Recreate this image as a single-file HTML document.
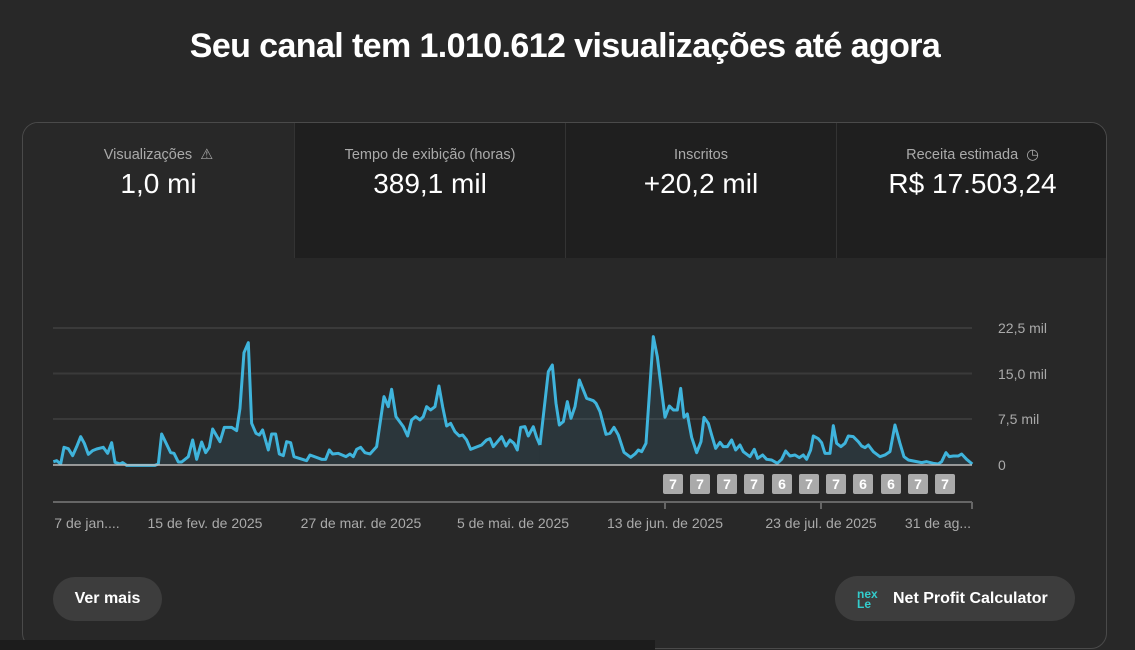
<!DOCTYPE html>
<html><head><meta charset="utf-8"><style>
*{margin:0;padding:0;box-sizing:border-box}
html,body{width:1135px;height:650px;overflow:hidden}
body{background:#282828;font-family:"Liberation Sans",sans-serif;position:relative;color:#fff}
h1{position:absolute;top:27px;left:0;width:1130px;text-align:center;font-size:34px;font-weight:bold;letter-spacing:-0.6px}
.card{position:absolute;left:22px;top:122px;width:1085px;height:527px;border:1px solid #4a4a4a;border-radius:16px;overflow:hidden}
.tab{position:absolute;top:0;height:135px;text-align:center;background:#1f1f1f;border-left:1px solid #333}
.tab .l{margin-top:24px;font-size:14.5px;color:#aaa}
.tab .v{margin-top:5px;font-size:28px;color:#fff}
.t0{left:0;width:271px;background:#282828;border-left:none}
.t1{left:271px;width:271px}.t2{left:542px;width:271px}.t3{left:813px;width:272px}
.btn{position:absolute;background:#3d3d3d;border-radius:23px;font-weight:bold;font-size:16px;color:#fff;display:flex;align-items:center;justify-content:center}
</style></head><body>
<h1>Seu canal tem 1.010.612 visualizações até agora</h1>
<div class="card">
<div class="tab t0"><div class="l">Visualizações &nbsp;⚠</div><div class="v">1,0 mi</div></div>
<div class="tab t1"><div class="l">Tempo de exibição (horas)</div><div class="v">389,1 mil</div></div>
<div class="tab t2"><div class="l">Inscritos</div><div class="v">+20,2 mil</div></div>
<div class="tab t3"><div class="l">Receita estimada &nbsp;◷</div><div class="v">R$ 17.503,24</div></div>
</div>
<svg width="1135" height="650" style="position:absolute;left:0;top:0">
<g stroke="#3a3a3a" stroke-width="2"><line x1="53" y1="328" x2="972" y2="328"/><line x1="53" y1="373.5" x2="972" y2="373.5"/><line x1="53" y1="419" x2="972" y2="419"/></g>
<g font-size="14" fill="#aaa" font-family="Liberation Sans,sans-serif"><text x="998" y="333">22,5 mil</text><text x="998" y="379">15,0 mil</text><text x="998" y="424">7,5 mil</text><text x="998" y="470">0</text></g>
<g transform="translate(40,310) scale(0.3333)">
<path fill="rgba(60,120,150,0.18)" stroke="none" d="M40,455 L50,452 62,462 72,412 85,416 98,437 110,410 122,380 133,400 145,433 158,422 170,417 190,412 203,430 215,398 225,457 240,462 248,458 260,466 345,466 355,462 365,372 392,428 402,430 415,456 425,456 445,440 458,390 470,448 485,396 497,428 508,412 518,357 540,395 553,352 575,352 590,362 600,295 612,128 625,98 635,340 648,370 658,375 668,360 685,420 695,372 707,372 718,432 730,437 740,395 752,398 762,440 800,452 810,435 845,448 857,448 868,420 878,432 895,430 918,440 930,432 940,440 950,418 962,412 975,428 990,432 1010,410 1032,260 1045,290 1055,238 1068,320 1090,350 1103,378 1115,330 1127,320 1140,330 1150,320 1160,290 1172,300 1185,290 1197,228 1208,290 1220,348 1232,340 1245,365 1258,378 1268,375 1280,390 1292,418 1325,405 1340,390 1350,386 1360,410 1385,380 1398,408 1410,390 1422,400 1432,420 1442,352 1455,350 1465,378 1480,350 1490,382 1500,405 1500,466 40,466Z"/>
<path fill="none" stroke="#3fb4dc" stroke-width="3" vector-effect="non-scaling-stroke" stroke-linejoin="round" d="M40,455 L50,452 62,462 72,412 85,416 98,437 110,410 122,380 133,400 145,433 158,422 170,417 190,412 203,430 215,398 225,457 240,462 248,458 260,466 345,466 355,462 365,372 392,428 402,430 415,456 425,456 445,440 458,390 470,448 485,396 497,428 508,412 518,357 540,395 553,352 575,352 590,362 600,295 612,128 625,98 635,340 648,370 658,375 668,360 685,420 695,372 707,372 718,432 730,437 740,395 752,398 762,440 800,452 810,435 845,448 857,448 868,420 878,432 895,430 918,440 930,432 940,440 950,418 962,412 975,428 990,432 1010,410 1032,260 1045,290 1055,238 1068,320 1090,350 1103,378 1115,330 1127,320 1140,330 1150,320 1160,290 1172,300 1185,290 1197,228 1208,290 1220,348 1232,340 1245,365 1258,378 1268,375 1280,390 1292,418 1325,405 1340,390 1350,386 1360,410 1385,380 1398,408 1410,390 1422,400 1432,420 1442,352 1455,350 1465,378 1480,350 1490,382 1500,405"/>
</g>
<g transform="translate(540,310) scale(0.3333)">
<path fill="rgba(60,120,150,0.18)" stroke="none" d="M0,405 L12,300 25,185 37,165 48,280 58,345 70,335 82,275 93,325 105,290 118,210 128,235 140,265 160,272 168,280 180,305 198,373 210,370 222,352 235,375 252,427 272,442 285,432 295,420 305,425 318,400 340,80 352,140 375,322 388,288 400,300 412,300 422,235 432,322 442,312 455,382 470,428 483,395 492,322 505,340 515,375 527,415 540,397 550,410 562,410 575,390 587,420 600,405 610,425 630,440 643,418 653,445 668,435 680,448 695,450 712,460 725,448 737,423 750,438 765,435 778,443 790,435 800,448 812,420 820,378 835,386 845,398 855,430 870,430 880,347 890,400 903,410 915,400 925,378 940,380 955,395 965,408 975,413 985,405 1000,425 1020,440 1035,435 1050,425 1065,345 1080,400 1092,440 1105,450 1130,455 1145,458 1160,455 1180,460 1195,462 1205,455 1218,428 1228,440 1240,438 1255,438 1265,432 1280,448 1297,462 1297,466 0,466Z"/>
<path fill="none" stroke="#3fb4dc" stroke-width="3" vector-effect="non-scaling-stroke" stroke-linejoin="round" d="M0,405 L12,300 25,185 37,165 48,280 58,345 70,335 82,275 93,325 105,290 118,210 128,235 140,265 160,272 168,280 180,305 198,373 210,370 222,352 235,375 252,427 272,442 285,432 295,420 305,425 318,400 340,80 352,140 375,322 388,288 400,300 412,300 422,235 432,322 442,312 455,382 470,428 483,395 492,322 505,340 515,375 527,415 540,397 550,410 562,410 575,390 587,420 600,405 610,425 630,440 643,418 653,445 668,435 680,448 695,450 712,460 725,448 737,423 750,438 765,435 778,443 790,435 800,448 812,420 820,378 835,386 845,398 855,430 870,430 880,347 890,400 903,410 915,400 925,378 940,380 955,395 965,408 975,413 985,405 1000,425 1020,440 1035,435 1050,425 1065,345 1080,400 1092,440 1105,450 1130,455 1145,458 1160,455 1180,460 1195,462 1205,455 1218,428 1228,440 1240,438 1255,438 1265,432 1280,448 1297,462"/>
</g>
<line x1="53" y1="465" x2="972" y2="465" stroke="#bbb" stroke-width="1.5"/>
<g font-size="14" font-weight="bold" fill="#fff" text-anchor="middle" font-family="Liberation Sans,sans-serif">
<g fill="#aaa" stroke="none">
<rect x="663" y="474" width="20" height="20" rx="2"/><rect x="690" y="474" width="20" height="20" rx="2"/><rect x="717" y="474" width="20" height="20" rx="2"/><rect x="744" y="474" width="20" height="20" rx="2"/><rect x="772" y="474" width="20" height="20" rx="2"/><rect x="799" y="474" width="20" height="20" rx="2"/><rect x="826" y="474" width="20" height="20" rx="2"/><rect x="853" y="474" width="20" height="20" rx="2"/><rect x="881" y="474" width="20" height="20" rx="2"/><rect x="908" y="474" width="20" height="20" rx="2"/><rect x="935" y="474" width="20" height="20" rx="2"/></g>
<text x="673" y="489">7</text><text x="700" y="489">7</text><text x="727" y="489">7</text><text x="754" y="489">7</text><text x="782" y="489">6</text><text x="809" y="489">7</text><text x="836" y="489">7</text><text x="863" y="489">6</text><text x="891" y="489">6</text><text x="918" y="489">7</text><text x="945" y="489">7</text></g>
<line x1="53" y1="502" x2="972" y2="502" stroke="#666" stroke-width="2"/>
<g stroke="#666" stroke-width="2"><line x1="665" y1="502" x2="665" y2="509"/><line x1="821" y1="502" x2="821" y2="509"/><line x1="972" y1="502" x2="972" y2="509"/></g>
<g font-size="14" fill="#aaa" font-family="Liberation Sans,sans-serif" text-anchor="middle"><text x="87" y="528">7 de jan....</text><text x="205" y="528">15 de fev. de 2025</text><text x="361" y="528">27 de mar. de 2025</text><text x="513" y="528">5 de mai. de 2025</text><text x="665" y="528">13 de jun. de 2025</text><text x="821" y="528">23 de jul. de 2025</text><text x="938" y="528">31 de ag...</text></g>
</svg>
<div class="btn" style="left:53px;top:577px;width:109px;height:44px">Ver mais</div>
<div class="btn" style="left:835px;top:576px;width:240px;height:45px;justify-content:flex-start;padding-left:22px"><span style="font-size:12px;color:#3cc;line-height:10px;width:36px;font-weight:bold">nex<br>Le</span>Net Profit Calculator</div>
<div style="position:absolute;left:0;top:640px;width:655px;height:10px;background:#1c1c1c"></div>
</body></html>
